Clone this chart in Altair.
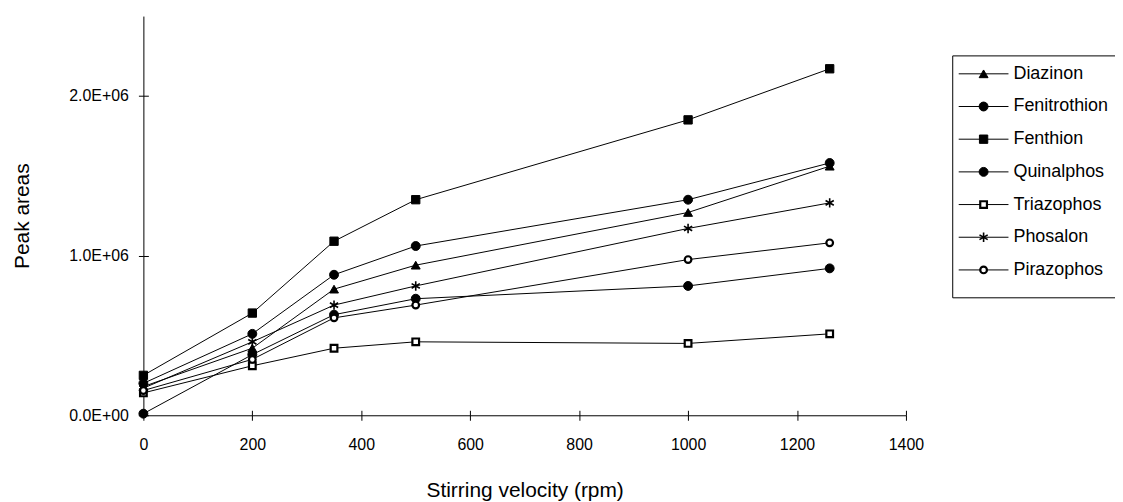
import altair as alt
import pandas as pd

rpm = [0, 200, 350, 500, 1000, 1260]
series_names = ["Diazinon", "Fenitrothion", "Fenthion", "Quinalphos",
                "Triazophos", "Phosalon", "Pirazophos"]
diazinon = [180000, 420000, 790000, 940000, 1270000, 1560000]
fenitrothion = [10000, 380000, 630000, 730000, 810000, 920000]
fenthion = [250000, 640000, 1090000, 1350000, 1850000, 2170000]
quinalphos = [200000, 510000, 880000, 1060000, 1350000, 1580000]
triazophos = [140000, 310000, 420000, 460000, 450000, 510000]
phosalon = [170000, 460000, 690000, 810000, 1170000, 1330000]
pirazophos = [155000, 350000, 610000, 690000, 975000, 1080000]

all_vals = [diazinon, fenitrothion, fenthion, quinalphos, triazophos, phosalon, pirazophos]
rows = []
for name, vals in zip(series_names, all_vals):
    for xv, v in zip(rpm, vals):
        rows.append({"series": name, "rpm": xv, "area": v})
df = pd.DataFrame(rows)
leg = pd.DataFrame({"series": series_names})

ASTERISK = "M0,-1L0,1M-0.87,-0.5L0.87,0.5M-0.87,0.5L0.87,-0.5"
shapes = ["triangle-up", "circle", "square", "circle", "square", ASTERISK, "circle"]
fills = ["black", "black", "black", "black", "white", "black", "white"]
swidths = [1, 1, 1, 1, 2.2, 1.6, 2.2]
sizes = [80, 80, 70, 80, 45, 90, 45]

W, H = 766, 401

shape_enc = alt.Shape("series:N", scale=alt.Scale(domain=series_names, range=shapes), legend=None)
fill_enc = alt.Fill("series:N", scale=alt.Scale(domain=series_names, range=fills), legend=None)
sw_enc = alt.StrokeWidth("series:N", scale=alt.Scale(type="ordinal", domain=series_names, range=swidths), legend=None)
size_enc = alt.Size("series:N", scale=alt.Scale(type="ordinal", domain=series_names, range=sizes), legend=None)

xscale = alt.Scale(domain=[0, 1400], nice=False, zero=True)
yscale = alt.Scale(domain=[0, 2500000], nice=False, zero=True)

base = alt.Chart(df)

lines = base.mark_line(color="black", strokeWidth=1).encode(
    x=alt.X("rpm:Q", scale=xscale,
            axis=alt.Axis(values=list(range(0, 1401, 200)), title="Stirring velocity (rpm)",
                          format="d", labelFlush=False,
                          tickSize=5, labelPadding=16, titlePadding=28, grid=False)),
    y=alt.Y("area:Q", scale=yscale,
            axis=alt.Axis(values=[0, 1000000, 2000000], title="Peak areas",
                          labelExpr="datum.value == 0 ? '0.0E+00' : format(datum.value/1000000, '.1f') + 'E+06'",
                          labelFlush=False,
                          tickSize=5, labelPadding=10, titlePadding=36, grid=False)),
    detail="series:N",
)

points = base.mark_point(opacity=1, fillOpacity=1, stroke="black").encode(
    x=alt.X("rpm:Q", scale=xscale,
            axis=alt.Axis(orient="top", offset=-H, values=list(range(0, 1401, 200)),
                          labels=False, domain=False, title=None, tickSize=5, grid=False)),
    y=alt.Y("area:Q", scale=yscale,
            axis=alt.Axis(orient="right", offset=-W, values=[0, 1000000, 2000000],
                          labels=False, domain=False, title=None, tickSize=5, grid=False)),
    shape=shape_enc, fill=fill_enc, strokeWidth=sw_enc, size=size_enc,
)

leg_y = alt.Y("series:N", sort=series_names,
              scale=alt.Scale(type="point", domain=series_names, range=[58, 255], padding=0),
              axis=None)

LX = 5
leg_box = alt.Chart(pd.DataFrame({"k": [0]})).mark_rect(
    fill="white", stroke="black", strokeWidth=1
).encode(x=alt.value(808 + LX), x2=alt.value(976 + LX), y=alt.value(40), y2=alt.value(283))

leg_lines = alt.Chart(leg).mark_rule(color="black", strokeWidth=1).encode(
    x=alt.value(814 + LX), x2=alt.value(864 + LX), y=leg_y)

leg_points = alt.Chart(leg).mark_point(opacity=1, fillOpacity=1, stroke="black").encode(
    x=alt.value(839 + LX), y=leg_y, shape=shape_enc, fill=fill_enc, strokeWidth=sw_enc, size=size_enc)

leg_text = alt.Chart(leg).mark_text(align="left", baseline="middle", fontSize=18,
                                    font="Liberation Sans", color="black").encode(
    x=alt.value(869 + LX), y=leg_y, text="series:N")

chart = alt.layer(lines, points, leg_box, leg_lines, leg_points, leg_text).resolve_scale(
    y="independent"
).resolve_axis(x="independent", y="independent").properties(
    width=W, height=H,
    autosize=alt.AutoSizeParams(type="none"),
    padding={"left": 136, "top": 7, "right": 210, "bottom": 86},
).configure_view(stroke=None).configure_axis(
    labelFont="Liberation Sans", titleFont="Liberation Sans",
    labelFontSize=16, titleFontSize=21, titleFontWeight="normal",
    labelColor="black", titleColor="black", domainColor="black", tickColor="black",
)

chart.save("out.html", embed_options={"renderer": "svg", "actions": False})
